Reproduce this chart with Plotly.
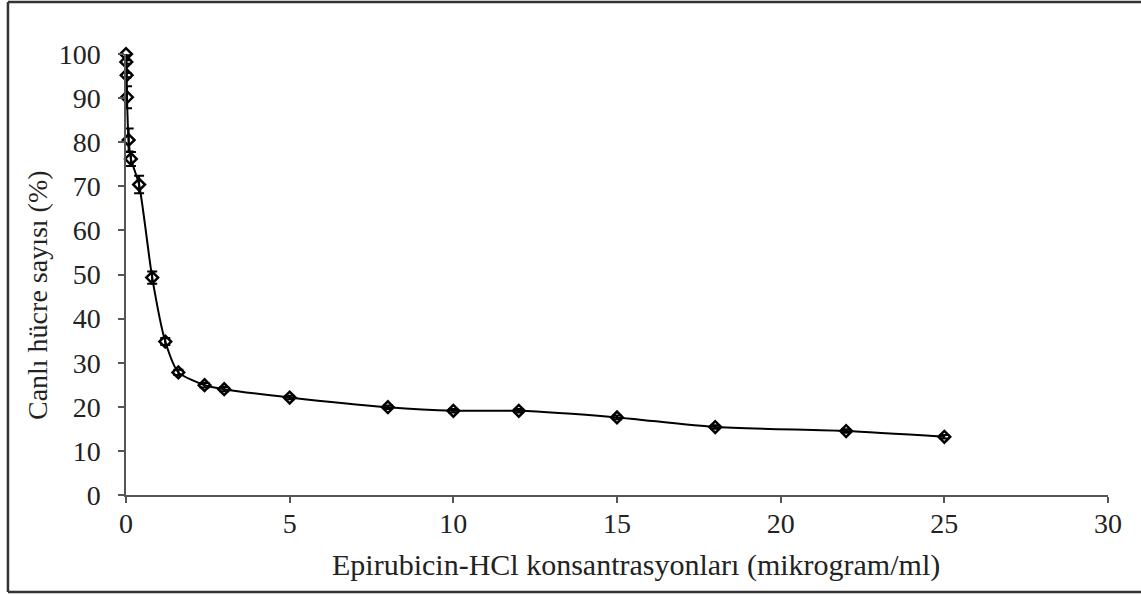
import plotly.graph_objects as go

# Data
concentration = [0, 0.01, 0.02, 0.03, 0.08, 0.15, 0.4, 0.8, 1.2, 1.6, 2.4, 3, 5, 8, 10, 12, 15, 18, 22, 25]
viability = [100, 98.2, 95.2, 90.2, 80.5, 76.2, 70.4, 49.3, 34.8, 27.8, 24.9, 24.0, 22.1, 19.9, 19.1, 19.1, 17.6, 15.4, 14.5, 13.2]
error = [0.3, 0.4, 0.5, 2.5, 2.6, 1.6, 2.0, 1.4, 0.8, 0.6, 0.5, 0.5, 0.4, 0.4, 0.4, 0.4, 0.4, 0.4, 0.4, 0.4]

x_ticks = [0, 5, 10, 15, 20, 25, 30]
y_ticks = [0, 10, 20, 30, 40, 50, 60, 70, 80, 90, 100]

x_title = "Epirubicin-HCl konsantrasyonları (mikrogram/ml)"
y_title = "Canlı hücre sayısı (%)"

FONT = "Liberation Serif"

fig = go.Figure()
fig.add_trace(go.Scatter(
    x=concentration, y=viability,
    mode="lines+markers",
    line=dict(color="black", width=2, shape="spline", smoothing=0.6),
    marker=dict(symbol="diamond-open", size=9, color="black", line=dict(width=2.5, color="black")),
    error_y=dict(type="data", array=error, visible=True, color="black", thickness=2, width=5),
    cliponaxis=False,
    showlegend=False,
))

axis_common = dict(
    showline=True, linecolor="#555555", linewidth=1.5,
    ticks="outside", ticklen=6, tickwidth=1.5, tickcolor="#555555",
    showgrid=False, zeroline=False,
    tickfont=dict(family=FONT, size=28, color="#222222"),
)

fig.update_layout(
    width=1141, height=596,
    margin=dict(l=126, r=33, t=54, b=101),
    paper_bgcolor="white", plot_bgcolor="white",
    xaxis=dict(range=[0, 30], tickvals=x_ticks, ticklabelstandoff=-3, **axis_common),
    yaxis=dict(range=[0, 100], tickvals=y_ticks, ticklabelstandoff=12, **axis_common),
    font=dict(family=FONT, color="#222222"),
)

fig.add_annotation(text=x_title, xref="paper", yref="paper", x=0.519, y=-0.158,
                   showarrow=False, font=dict(family=FONT, size=30, color="#222222"),
                   xanchor="center", yanchor="middle")
fig.add_annotation(text=y_title, xref="paper", yref="paper", x=-0.0906, y=0.4535,
                   showarrow=False, textangle=-90, font=dict(family=FONT, size=28, color="#222222"),
                   xanchor="center", yanchor="middle")

# Outer frame (left, top, bottom)
frame = dict(type="line", xref="paper", yref="paper", line=dict(color="#333333", width=2.5))
fig.add_shape(x0=-0.1202, x1=-0.1202, y0=-0.2197, y1=1.1179, **frame)
fig.add_shape(x0=-0.1202, x1=1.04, y0=1.1179, y1=1.1179, **frame)
fig.add_shape(x0=-0.1202, x1=1.04, y0=-0.2197, y1=-0.2197, **frame)

fig.write_html("out.html")
